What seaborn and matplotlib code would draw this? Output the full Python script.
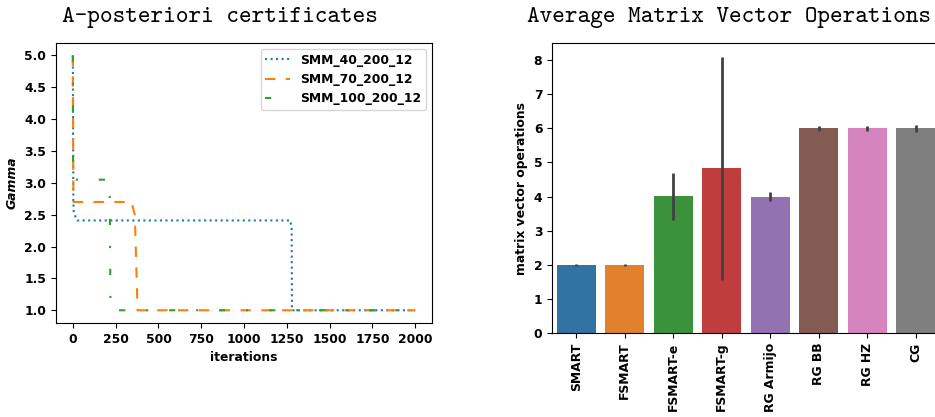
import numpy as np
import pandas as pd
import matplotlib
matplotlib.use("Agg")
import matplotlib.pyplot as plt
import seaborn as sns

# left panel: gamma certificate per iteration (breakpoints)
runs = ["SMM_40_200_12", "SMM_70_200_12", "SMM_100_200_12"]
iters_40 = [0, 3, 5, 15, 25, 1270, 1278, 1280, 2000]
gamma_40 = [5.0, 2.7, 2.55, 2.47, 2.41, 2.41, 2.3, 1.0, 1.0]
iters_70 = [0, 3, 345, 350, 362, 378, 2000]
gamma_70 = [5.0, 2.7, 2.7, 2.62, 2.5, 1.0, 1.0]
iters_100 = [0, 1, 215, 220, 2000]
gamma_100 = [5.0, 3.05, 3.05, 1.0, 1.0]

# right panel: average matrix vector operations with error bar ends
methods = ["SMART", "FSMART", "FSMART-e", "FSMART-g", "RG Armijo", "RG BB", "RG HZ", "CG"]
mv_mean = [2.0, 2.0, 4.02, 4.84, 3.99, 6.01, 6.01, 6.01]
mv_low = [1.97, 1.97, 3.32, 1.56, 3.87, 5.92, 5.92, 5.89]
mv_high = [2.02, 2.02, 4.70, 8.10, 4.12, 6.07, 6.07, 6.11]

plt.rcParams["font.weight"] = "bold"
plt.rcParams["axes.labelweight"] = "bold"
FS = 8.9

df = pd.concat([
    pd.DataFrame({"iterations": iters_40, "Gamma": gamma_40, "run": runs[0]}),
    pd.DataFrame({"iterations": iters_70, "Gamma": gamma_70, "run": runs[1]}),
    pd.DataFrame({"iterations": iters_100, "Gamma": gamma_100, "run": runs[2]}),
])

fig = plt.figure(figsize=(9.35, 4.17), dpi=100)
ax1 = fig.add_axes([0.0596, 0.2254, 0.4028, 0.6722])
ax2 = fig.add_axes([0.5904, 0.2014, 0.415, 0.6954])

sns.lineplot(data=df, x="iterations", y="Gamma", hue="run", style="run",
             dashes=[(1, 1.65), (5, 5), (3, 10, 1, 10)], linewidth=1.5,
             palette=["#1f77b4", "#ff7f0e", "#2ca02c"], ax=ax1)
handles, labels = ax1.get_legend_handles_labels()
ax1.legend(handles, labels, loc="upper right", fontsize=FS)
ax1.set_xlabel("iterations", fontsize=FS)
ax1.set_ylabel("Gamma", fontsize=FS, style="italic")
ax1.set_xticks([0, 250, 500, 750, 1000, 1250, 1500, 1750, 2000])
ax1.tick_params(labelsize=FS)
ax1.set_title("A-posteriori certificates", fontfamily="cmtt10", fontsize=17.3,
              x=0.436, pad=15)

mv = pd.DataFrame({"method": methods, "ops": mv_mean})
sns.barplot(data=mv, x="method", y="ops", hue="method", palette="tab10",
            legend=False, errorbar=None, ax=ax2)
ax2.vlines(np.arange(len(methods)), mv_low, mv_high, color=".26", linewidth=2.0)
ax2.set_xlim(-0.5, len(methods) - 0.5)
ax2.set_ylim(0, 8.5)
ax2.set_xlabel("")
ax2.set_ylabel("matrix vector operations", fontsize=FS)
ax2.tick_params(labelsize=FS)
ax2.tick_params(axis="x", rotation=90)
ax2.set_title("Average Matrix Vector Operations", fontfamily="cmtt10", fontsize=17.3,
              x=0.455, pad=15)

fig.savefig("out.png", dpi=100)
